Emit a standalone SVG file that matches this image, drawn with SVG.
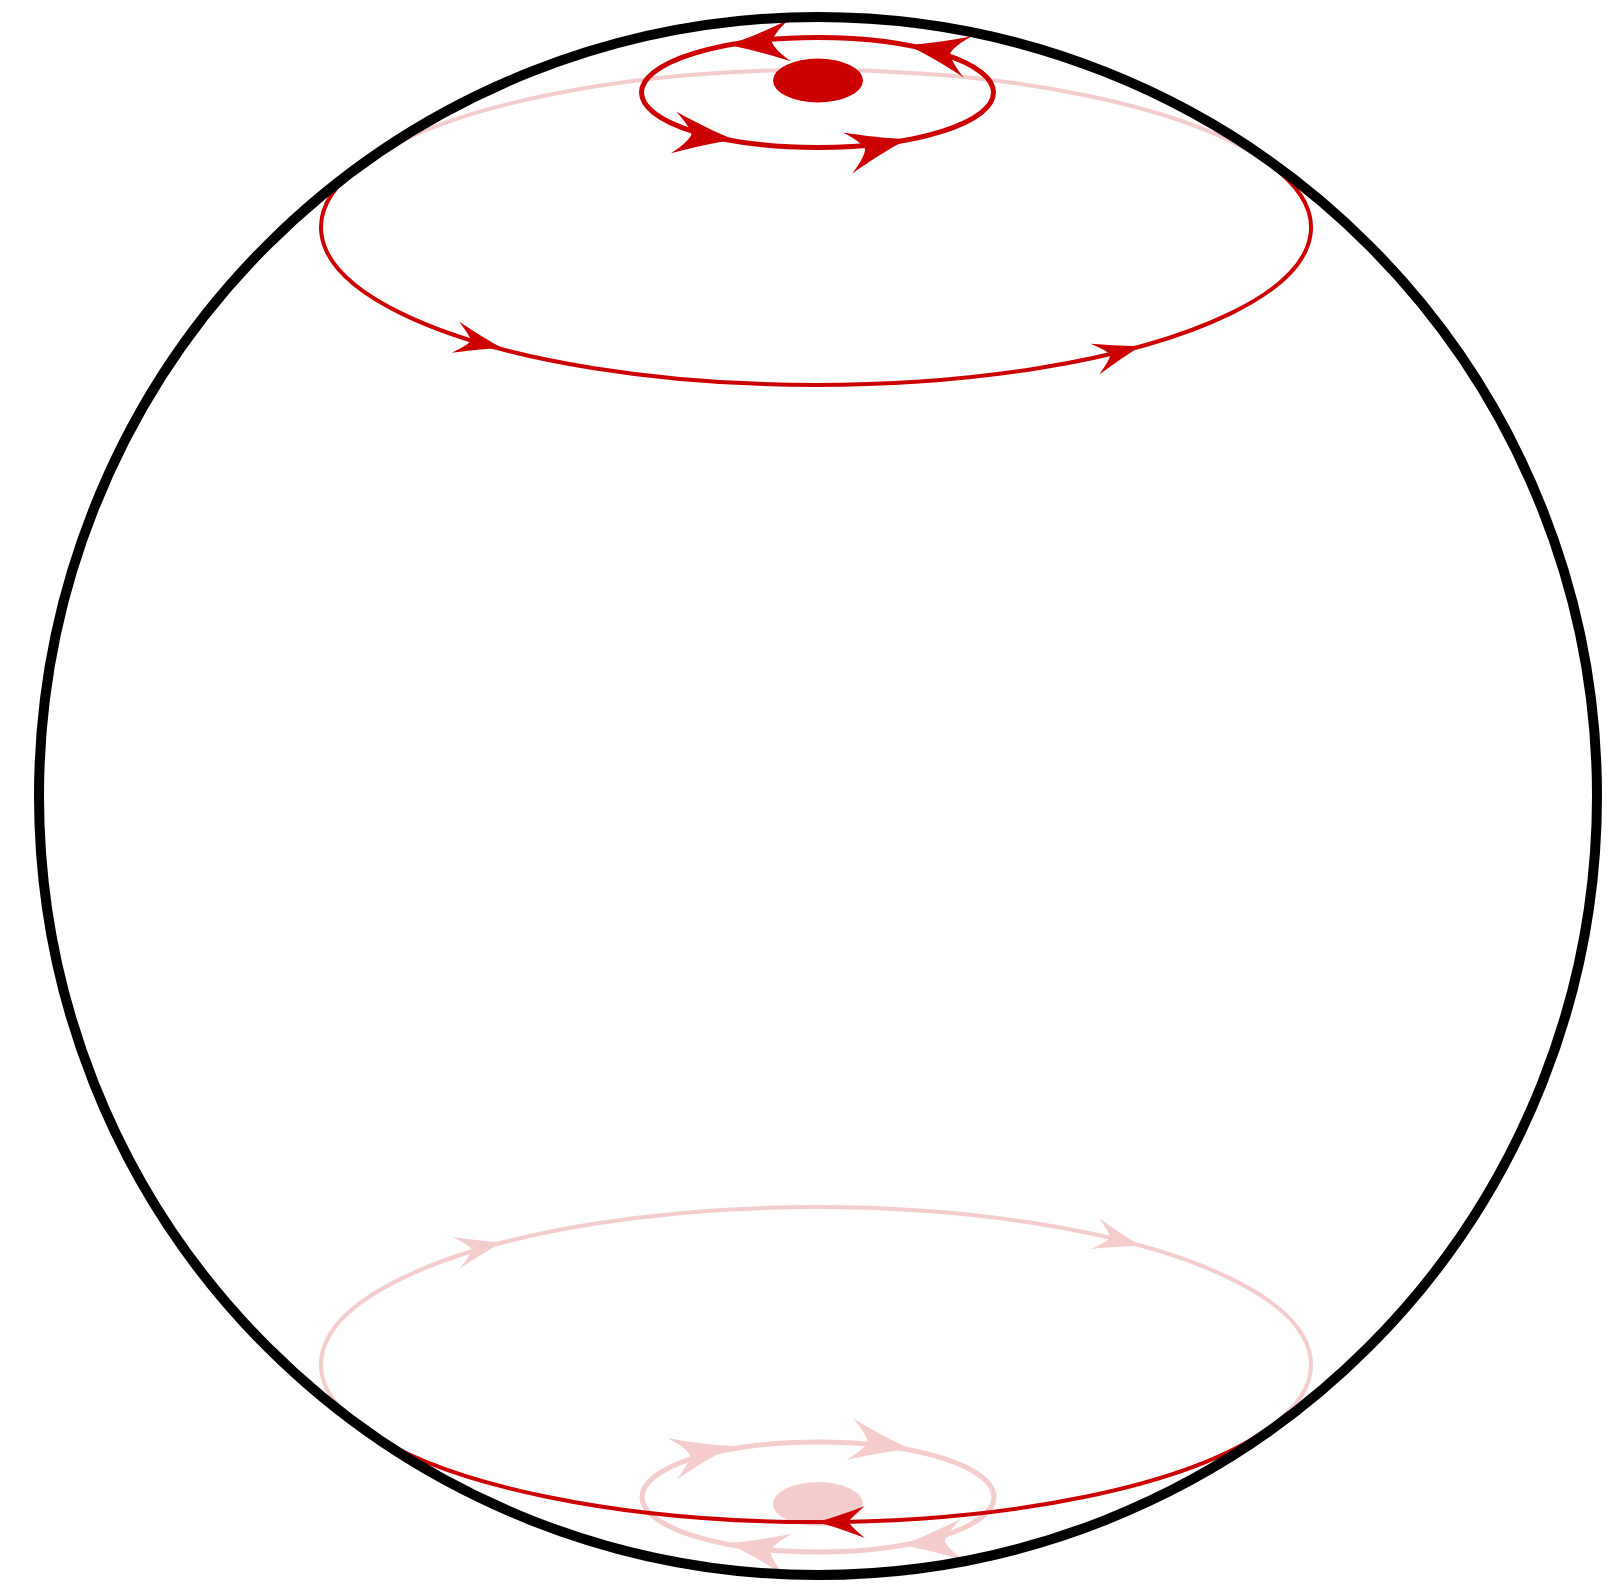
<svg xmlns="http://www.w3.org/2000/svg" width="1615" height="1586" viewBox="0 0 1615 1586">
  <style>
    .solid { fill: none; stroke: #cc0000; }
    .faint { fill: none; stroke: #f5cccc; }
    .ahs { fill: #cc0000; }
    .ahf { fill: #f5cccc; }
    .thick { stroke-width: 5; }
    .thin { stroke-width: 4; }
  </style>
  <defs>
    <path id="arrowBig" d="M0,0 C-20,-5 -42,-13 -62,-21 C-50,-11 -45,-4 -44,0 C-45,4 -50,11 -62,21 C-42,13 -20,5 0,0 Z"/>
    <path id="arrowSmall" d="M0,0 C-15,-4 -32,-10 -48,-16 C-38,-8 -33,-3 -32,0 C-33,3 -38,8 -48,16 C-32,10 -15,4 0,0 Z"/>
  </defs>
  <rect width="1615" height="1586" fill="#ffffff"/>

  <!-- hidden (back) parts -->
  <g id="hidden">
    <ellipse id="south-pole" cx="818" cy="1504" rx="45" ry="22" fill="#f5cccc"/>
    <ellipse id="south-small-circle" class="faint thick" cx="818" cy="1497" rx="176" ry="55"/>
    <path id="north-big-back" class="faint thin" d="M364,163.2 A495,157.5 0 0 1 1268,163.2"/>
    <path id="south-big-back" class="faint thin" d="M364,1428.8 A495,157.5 0 1 1 1268,1428.8"/>
  </g>

  <!-- visible (front) parts -->
  <g id="visible">
    <path id="north-big-front" class="solid thin" d="M364,163.2 A495,157.5 0 1 0 1268,163.2"/>
    <path id="south-big-front" class="solid thin" d="M364,1428.8 A495,157.5 0 0 0 1268,1428.8"/>
    <ellipse id="north-small-circle" class="solid thick" cx="817.5" cy="92.5" rx="176" ry="55"/>
    <ellipse id="north-pole" cx="818" cy="80.5" rx="45" ry="22" fill="#cc0000"/>
  </g>

  <g id="connectors">
    <!-- faint arrowheads -->
    <g class="ahf">
      <use href="#arrowSmall" transform="translate(503,1242) rotate(-13)"/>
      <use href="#arrowSmall" transform="translate(1141,1246) rotate(15)"/>
      <use href="#arrowBig" transform="translate(733,1446) rotate(-12)"/>
      <use href="#arrowBig" transform="translate(911,1449) rotate(9)"/>
      <use href="#arrowBig" transform="translate(727,1543) rotate(190.5)"/>
      <use href="#arrowBig" transform="translate(901,1545) rotate(175)"/>
    </g>
    <!-- solid arrowheads -->
    <g class="ahs">
      <use href="#arrowSmall" transform="translate(502,348) rotate(13)"/>
      <use href="#arrowSmall" transform="translate(1141,346) rotate(-16)"/>
      <use href="#arrowSmall" transform="translate(817,1522) rotate(180)"/>
      <use href="#arrowBig" transform="translate(735,140) rotate(7)"/>
      <use href="#arrowBig" transform="translate(908,139) rotate(-13)"/>
      <use href="#arrowBig" transform="translate(728,45) rotate(176)"/>
      <use href="#arrowBig" transform="translate(907,45) rotate(191)"/>
    </g>
  </g>

  <g id="sphere">
    <circle cx="818" cy="796" r="779" fill="none" stroke="#000000" stroke-width="10"/>
  </g>
</svg>
